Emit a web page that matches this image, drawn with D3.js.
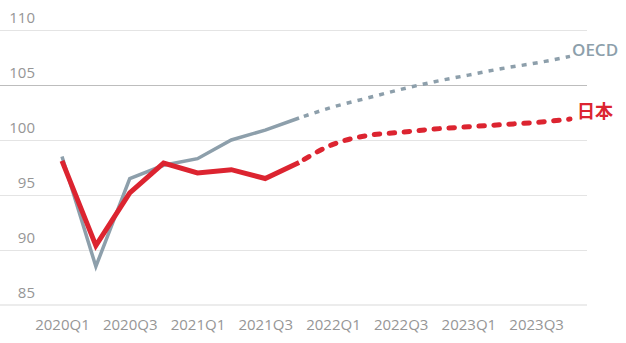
<!DOCTYPE html>
<html>
<head>
<meta charset="utf-8">
<script src="https://cdn.jsdelivr.net/npm/d3@7"></script>
<style>
  html, body { margin: 0; padding: 0; background: #fff; }
  svg { display: block; }
</style>
</head>
<body>
<svg id="chart" width="626" height="343"></svg>
<script>
const quarters = ["2020Q1","2020Q2","2020Q3","2020Q4","2021Q1","2021Q2","2021Q3","2021Q4",
                  "2022Q1","2022Q2","2022Q3","2022Q4","2023Q1","2023Q2","2023Q3","2023Q4"];
const tickLabels = ["2020Q1","2020Q3","2021Q1","2021Q3","2022Q1","2022Q3","2023Q1","2023Q3"];
const yTicks = [85, 90, 95, 100, 105, 110];
const oecd  = [98.5, 88.5, 96.5, 97.7, 98.3, 100.0, 100.9, 102.0,
               103.0, 103.8, 104.6, 105.3, 105.9, 106.5, 107.0, 107.6];
const japan = [98.1, 90.4, 95.2, 97.9, 97.0, 97.3, 96.5, 97.95,
               99.6, 100.4, 100.7, 101.0, 101.2, 101.4, 101.6, 101.9];
const lastActual = 7; // 2021Q4, later values are forecasts

const svg = d3.select("#chart");
const x = d3.scalePoint().domain(quarters).range([62, 570]);
const y = d3.scaleLinear().domain([85, 110]).range([305, 30]);
const font = "'Open Sans', sans-serif";
const grey = "#8d9fab", red = "#dc2430", tickCol = "#969696";

// gridlines
svg.append("g").selectAll("line").data(yTicks).join("line")
  .attr("x1", 0).attr("x2", 587)
  .attr("y1", d => y(d)).attr("y2", d => y(d))
  .attr("stroke", d => d === 85 ? "#ececec" : (d === 105 ? "#bdbdbd" : "#e4e4e4"))
  .attr("stroke-width", d => d === 85 ? 2 : 1)
  .attr("shape-rendering", "crispEdges");

// y labels (above lines)
svg.append("g").selectAll("text").data(yTicks).join("text")
  .attr("x", 35).attr("y", d => y(d) - 7)
  .attr("text-anchor", "end")
  .attr("font-family", font).attr("font-size", 15)
  .attr("fill", tickCol).text(d => d);

// x axis labels
const xAxis = d3.axisBottom(x).tickValues(tickLabels).tickSize(0).tickPadding(0);
const xg = svg.append("g").attr("transform", "translate(0,319)").call(xAxis);
xg.select(".domain").remove();
xg.selectAll("text").attr("font-family", font).attr("font-size", 15)
  .attr("fill", tickCol).attr("dy", "0.71em");

const line = d3.line().x(d => x(d.q)).y(d => y(d.v));
const lineF = d3.line().x(d => x(d.q)).y(d => y(d.v)).curve(d3.curveMonotoneX);
function pts(arr) { return arr.map((v, i) => ({q: quarters[i], v})); }

function drawSeries(arr, color, w, dash, cap, off) {
  const p = pts(arr);
  svg.append("path").datum(p.slice(0, lastActual + 1))
    .attr("d", line).attr("fill", "none")
    .attr("stroke", color).attr("stroke-width", w)
    .attr("stroke-linejoin", "miter");
  svg.append("path").datum(p.slice(lastActual))
    .attr("d", lineF).attr("fill", "none")
    .attr("stroke", color).attr("stroke-width", w)
    .attr("stroke-dasharray", dash).attr("stroke-linecap", cap)
    .attr("stroke-dashoffset", off);
}
drawSeries(oecd, grey, 3.5, "5,6.2", "butt", -5);
drawSeries(japan, red, 5, "5.5,9.5", "round", -6);

svg.append("text").attr("x", 572).attr("y", 56)
  .attr("font-family", font).attr("font-size", 17).attr("font-weight", 600)
  .attr("fill", grey).text("OECD");
svg.append("text").attr("x", 577).attr("y", 118)
  .attr("font-family", "'Noto Sans CJK JP', sans-serif").attr("font-size", 18).attr("font-weight", 700)
  .attr("fill", red).text("日本");
</script>
</body>
</html>
